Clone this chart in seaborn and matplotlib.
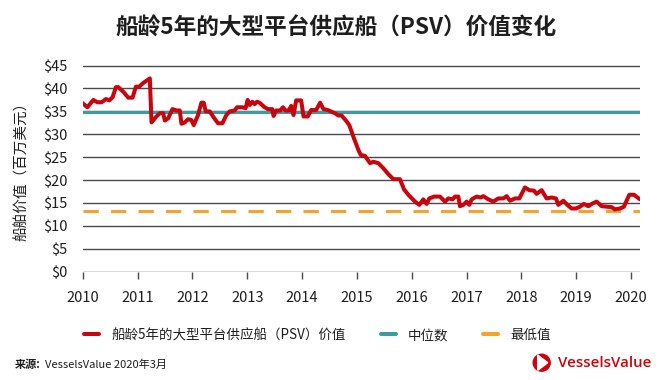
"""船龄5年的大型平台供应船（PSV）价值变化 折线图。"""

import matplotlib

matplotlib.use("Agg")

import matplotlib.pyplot as plt
from matplotlib.lines import Line2D
from matplotlib.patches import Ellipse, Polygon
import seaborn as sns


# 时间（年份，小数表示）与船舶价值（百万美元）
YEARS = [
    2010.000, 2010.085, 2010.194, 2010.267, 2010.346, 2010.424, 2010.485, 2010.546,
    2010.606, 2010.649, 2010.740, 2010.831, 2010.910, 2010.970, 2011.031, 2011.104,
    2011.225, 2011.255, 2011.346, 2011.407, 2011.468, 2011.498, 2011.559, 2011.637,
    2011.710, 2011.771, 2011.801, 2011.862, 2011.922, 2011.983, 2012.025, 2012.104,
    2012.165, 2012.207, 2012.244, 2012.317, 2012.377, 2012.468, 2012.547, 2012.620,
    2012.680, 2012.771, 2012.814, 2012.911, 2012.971, 2013.008, 2013.044, 2013.093,
    2013.135, 2013.178, 2013.226, 2013.317, 2013.378, 2013.457, 2013.481, 2013.529,
    2013.602, 2013.651, 2013.699, 2013.760, 2013.802, 2013.845, 2013.893, 2013.984,
    2014.027, 2014.105, 2014.166, 2014.257, 2014.330, 2014.391, 2014.469, 2014.601,
    2014.662, 2014.723, 2014.814, 2014.862, 2014.935, 2015.027, 2015.069, 2015.148,
    2015.239, 2015.300, 2015.391, 2015.482, 2015.573, 2015.665, 2015.786, 2015.859,
    2015.938, 2016.060, 2016.139, 2016.212, 2016.272, 2016.321, 2016.406, 2016.515,
    2016.607, 2016.667, 2016.746, 2016.789, 2016.850, 2016.880, 2016.941, 2017.002,
    2017.050, 2017.093, 2017.184, 2017.257, 2017.305, 2017.397, 2017.488, 2017.579,
    2017.670, 2017.731, 2017.792, 2017.883, 2017.962, 2018.065, 2018.144, 2018.229,
    2018.278, 2018.369, 2018.460, 2018.551, 2018.630, 2018.673, 2018.764, 2018.837,
    2018.916, 2018.995, 2019.068, 2019.141, 2019.220, 2019.299, 2019.372, 2019.463,
    2019.554, 2019.645, 2019.706, 2019.797, 2019.870, 2019.967, 2020.052, 2020.162,
]
VALUES = [
    36.8, 35.9, 37.5, 37.0, 37.0, 37.7, 37.4, 38.1,
    40.3, 40.3, 39.3, 38.0, 38.0, 40.4, 40.4, 41.2,
    42.2, 32.6, 33.9, 34.6, 34.6, 33.0, 33.5, 35.5,
    35.2, 35.2, 32.3, 32.6, 33.3, 33.1, 32.0, 34.2,
    36.9, 36.9, 35.0, 35.0, 33.9, 32.4, 32.4, 34.2,
    35.0, 35.2, 35.9, 35.9, 35.7, 37.5, 36.4, 37.1,
    36.6, 37.1, 36.9, 35.9, 35.5, 35.5, 34.0, 35.2,
    35.2, 35.9, 35.2, 35.2, 36.2, 34.2, 37.4, 37.4,
    33.9, 33.9, 35.3, 35.3, 36.9, 35.5, 35.3, 34.6,
    34.1, 34.1, 32.8, 32.0, 29.5, 26.6, 25.5, 25.3,
    23.7, 24.0, 23.7, 22.6, 21.3, 20.2, 20.2, 18.0,
    16.8, 15.3, 14.6, 15.8, 14.8, 16.0, 16.4, 16.4,
    15.3, 16.0, 15.8, 16.4, 16.4, 14.3, 14.6, 15.3,
    14.6, 15.8, 16.4, 16.2, 16.5, 15.8, 15.3, 16.0,
    16.0, 16.5, 15.5, 16.0, 16.0, 18.4, 17.8, 17.7,
    17.0, 17.8, 16.0, 16.2, 16.0, 14.6, 15.5, 14.6,
    13.8, 13.8, 14.2, 14.8, 14.3, 14.9, 15.3, 14.3,
    14.2, 14.1, 13.6, 13.8, 14.2, 16.8, 16.8, 15.8,
]
MEDIAN_VALUE = 34.9
LOWEST_VALUE = 13.2

YEAR_TICKS = list(range(2010, 2021))
VALUE_TICKS = list(range(0, 50, 5))

SERIES_LABEL = "船龄5年的大型平台供应船（PSV）价值"
MEDIAN_LABEL = "中位数"
LOWEST_LABEL = "最低值"

RED = "#c8050f"
TEAL = "#3a9c9e"
ORANGE = "#f2a42c"
GRID = "#4a4a4a"
TEXT = "#1e1e1e"


def main() -> None:
    sns.set_theme(style="white")
    plt.rcParams["font.family"] = ["Noto Sans CJK SC", "DejaVu Sans"]
    plt.rcParams["axes.unicode_minus"] = False

    figure = plt.figure(figsize=(6.7, 3.8), dpi=100)
    axis = figure.add_axes([0.1234, 0.285, 0.8316, 0.546])

    for value in VALUE_TICKS:
        axis.axhline(value, color=GRID, linewidth=1.0, zorder=1)
    axis.axhline(MEDIAN_VALUE, color=TEAL, linewidth=2.2, zorder=2)
    axis.axhline(LOWEST_VALUE, color=ORANGE, linewidth=2.2, dashes=(5, 4), zorder=2)
    sns.lineplot(x=YEARS, y=VALUES, color=RED, linewidth=2.9, ax=axis, zorder=3)

    axis.set_xlim(2010, 2020.16)
    axis.set_ylim(0, 45.3)
    axis.set_xticks(YEAR_TICKS)
    axis.set_xticklabels([str(year) for year in YEAR_TICKS])
    axis.set_yticks(VALUE_TICKS)
    axis.set_yticklabels([f"${value}" for value in VALUE_TICKS])
    axis.tick_params(axis="x", direction="out", length=5, width=1.0, color=GRID,
                     bottom=True, pad=9, labelsize=10.5, labelcolor=TEXT)
    axis.tick_params(axis="y", left=False, pad=5, labelsize=10.5, labelcolor=TEXT)
    for spine in axis.spines.values():
        spine.set_visible(False)
    axis.grid(False)
    axis.set_xlabel("")
    axis.set_ylabel("船舶价值（百万美元）", fontsize=10.5, color=TEXT, labelpad=10)

    figure.text(0.502, 0.925, "船龄5年的大型平台供应船（PSV）价值变化", ha="center",
                va="center", fontsize=16.3, fontweight="bold", color=TEXT)

    handles = [
        Line2D([], [], color=RED, linewidth=2.9),
        Line2D([], [], color=TEAL, linewidth=2.9),
        Line2D([], [], color=ORANGE, linewidth=2.9),
    ]
    figure.legend(handles, [SERIES_LABEL, MEDIAN_LABEL, LOWEST_LABEL], ncol=3,
                  loc="center", bbox_to_anchor=(0.474, 0.118), frameon=False,
                  fontsize=9.7, handlelength=1.1, handletextpad=0.9, columnspacing=2.6,
                  labelcolor=TEXT)

    figure.text(0.022, 0.04, "来源:", fontsize=8, fontweight="bold", color=TEXT, va="center")
    figure.text(0.067, 0.04, "VesselsValue 2020年3月", fontsize=8, color=TEXT, va="center")

    # VesselsValue 标志：红色圆形内的白色三角
    figure.patches.append(Ellipse((0.8085, 0.0455), 0.0254, 0.0447,
                                  transform=figure.transFigure, color=RED, figure=figure))
    figure.patches.append(Polygon([(0.8025, 0.0255), (0.8025, 0.0655), (0.8175, 0.0455)],
                                  closed=True, transform=figure.transFigure,
                                  color="white", figure=figure))
    figure.text(0.833, 0.045, "VesselsValue", fontsize=10.8, fontweight="semibold",
                color=RED, va="center", family=["Open Sans", "DejaVu Sans"])

    figure.savefig("out.png", dpi=100)
    plt.close(figure)


if __name__ == "__main__":
    main()
